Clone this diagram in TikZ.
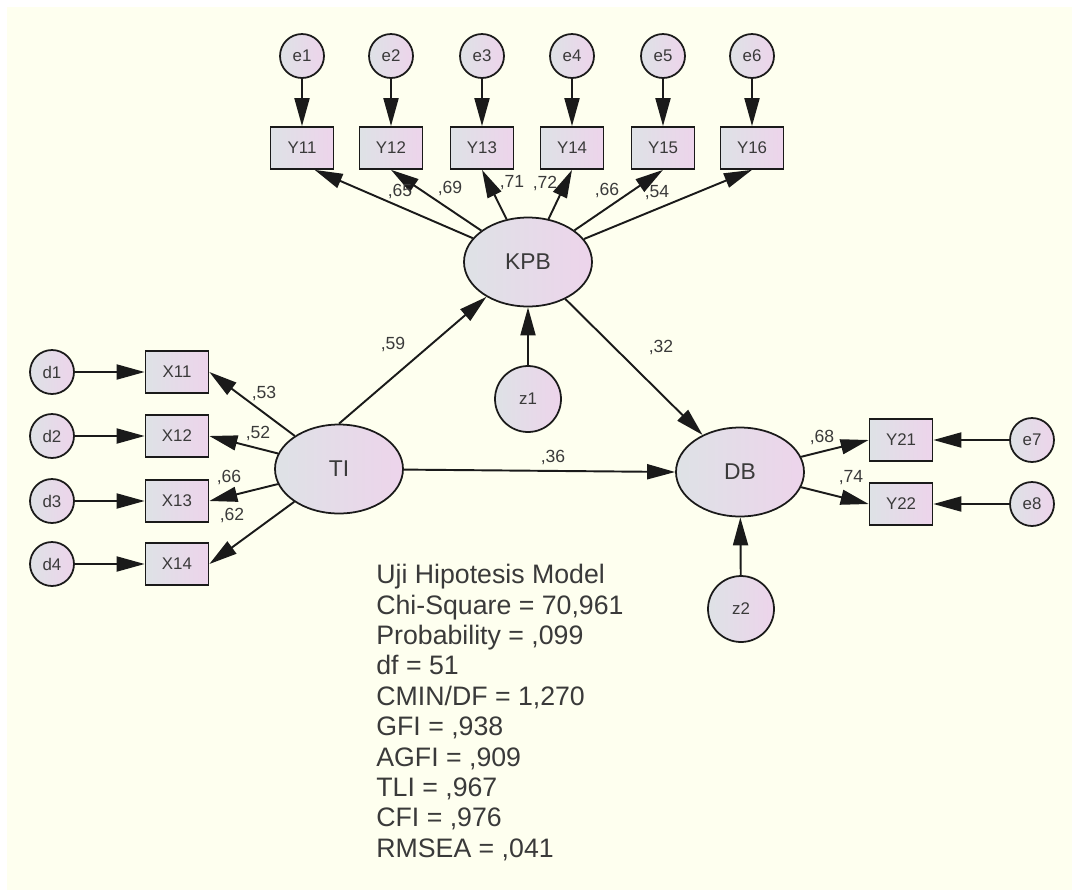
\documentclass[tikz,border=0pt]{standalone}
\usepackage{fontspec}
\setmainfont{Liberation Sans}
\usetikzlibrary{arrows.meta,shapes.geometric}
\definecolor{paper}{HTML}{FEFFEF}
\definecolor{shadeL}{HTML}{DEE2E6}
\definecolor{shadeR}{HTML}{EDD4EB}
\definecolor{ink}{HTML}{1A1A1A}
\definecolor{txt}{HTML}{3A3A3A}
\tikzset{
  filled/.style={draw=ink,line width=1pt,left color=shadeL,right color=shadeR,text=txt,inner sep=0pt},
  latent/.style={filled,ellipse,minimum width=2.56cm,minimum height=1.78cm,
                 font=\fontsize{13}{15}\selectfont},
  obs/.style={filled,rectangle,minimum width=1.26cm,minimum height=0.84cm,
              font=\fontsize{9.6}{11}\selectfont},
  err/.style={filled,circle,minimum size=0.88cm,font=\fontsize{9.6}{11}\selectfont},
  dist/.style={err,minimum size=1.32cm},
  flow/.style={-{Triangle[length=0.56cm,width=0.3cm]},line width=1.1pt,draw=ink},
  lbl/.style={font=\fontsize{10}{12}\selectfont,text=txt,inner sep=0pt},
  stats/.style={align=left,inner sep=0pt,text=txt,font=\fontsize{15.2}{17.3}\selectfont}
}

\begin{document}
\begin{tikzpicture}[x=0.02cm,y=-0.02cm]
    % canvas
    \fill[white] (0,0) rectangle (1072,890);
    \fill[paper] (7,7) rectangle (1072,890);

    % latent variables
    \node[latent] (kpb) at (528,262) {KPB};
    \node[latent] (ti) at (339,469) {TI};
    \node[latent] (db) at (740,472) {DB};
    \node[dist] (z1) at (528,399) {z1};
    \node[dist] (z2) at (741,609) {z2};

    % KPB indicators
    \node[obs] (y11) at (302,148) {Y11};
    \node[obs] (y12) at (391,148) {Y12};
    \node[obs] (y13) at (482,148) {Y13};
    \node[obs] (y14) at (572,148) {Y14};
    \node[obs] (y15) at (663,148) {Y15};
    \node[obs] (y16) at (752,148) {Y16};
    \node[err] (e1) at (302,56) {e1};
    \node[err] (e2) at (391,56) {e2};
    \node[err] (e3) at (482,56) {e3};
    \node[err] (e4) at (572,56) {e4};
    \node[err] (e5) at (663,56) {e5};
    \node[err] (e6) at (752,56) {e6};

    % TI indicators
    \node[obs] (x11) at (177,372) {X11};
    \node[obs] (x12) at (177,436) {X12};
    \node[obs] (x13) at (177,501) {X13};
    \node[obs] (x14) at (177,564) {X14};
    \node[err] (d1) at (52,372) {d1};
    \node[err] (d2) at (52,436) {d2};
    \node[err] (d3) at (52,501) {d3};
    \node[err] (d4) at (52,564) {d4};

    % DB indicators
    \node[obs] (y21) at (901,440) {Y21};
    \node[obs] (y22) at (901,504) {Y22};
    \node[err] (e7) at (1032,440) {e7};
    \node[err] (e8) at (1032,504) {e8};

    % structural paths
    \path (ti.north) edge[flow] (kpb.220);
    \path (kpb) edge[flow] (db);
    \path (ti) edge[flow] (db.west);
    \path (z1) edge[flow] (kpb);
    \path (z2) edge[flow] (db);
    \node[lbl] at (393,344) {,59};
    \node[lbl] at (661,347) {,32};
    \node[lbl] at (553,457) {,36};

    % loadings
    \path (kpb) edge[flow] (y11.-60);
    \path (kpb) edge[flow] (y12.south);
    \path (kpb) edge[flow] (y13.south);
    \path (kpb) edge[flow] (y14.south);
    \path (kpb) edge[flow] (y15.south);
    \path (kpb) edge[flow] (y16.south);
    \node[lbl] at (400,191) {,65};
    \node[lbl] at (450,188) {,69};
    \node[lbl] at (512,183) {,71};
    \node[lbl] at (545,183) {,72};
    \node[lbl] at (607,190) {,66};
    \node[lbl] at (657,193) {,54};

    \path (ti) edge[flow] (x11.east);
    \path (ti) edge[flow] (x12.east);
    \path (ti) edge[flow] (x13.east);
    \path (ti) edge[flow] (x14.east);
    \node[lbl] at (264,393) {,53};
    \node[lbl] at (258,433) {,52};
    \node[lbl] at (229,477) {,66};
    \node[lbl] at (232,515) {,62};

    \path (db) edge[flow] (y21.west);
    \path (db) edge[flow] (y22.west);
    \node[lbl] at (822,437) {,68};
    \node[lbl] at (851,478) {,74};

    % error terms
    \path (e1) edge[flow] (y11);
    \path (e2) edge[flow] (y12);
    \path (e3) edge[flow] (y13);
    \path (e4) edge[flow] (y14);
    \path (e5) edge[flow] (y15);
    \path (e6) edge[flow] (y16);
    \path (d1) edge[flow] (x11);
    \path (d2) edge[flow] (x12);
    \path (d3) edge[flow] (x13);
    \path (d4) edge[flow] (x14);
    \path (e7) edge[flow] (y21);
    \path (e8) edge[flow] (y22);

    % fit summary
    \node[stats,anchor=north west] (fit) at (376,564) {Uji Hipotesis Model\\
      Chi-Square = 70,961\\Probability = ,099\\df = 51\\CMIN/DF = 1,270\\
      GFI = ,938\\AGFI = ,909\\TLI = ,967\\CFI = ,976\\RMSEA = ,041};
\end{tikzpicture}
\end{document}
